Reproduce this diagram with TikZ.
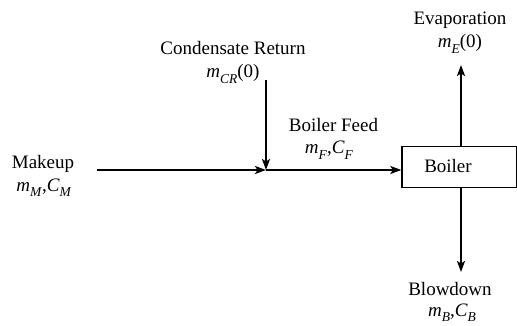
\documentclass[tikz,border=0pt]{standalone}
\usepackage{fontspec}
\setmainfont{Liberation Serif}
\usetikzlibrary{arrows.meta}
\newcommand{\vsub}[2]{\textit{#1}\raisebox{-0.28em}{\fontsize{13.5}{14}\selectfont\textit{#2}}}
\begin{document}
\begin{tikzpicture}[x=1pt,y=-1pt,
  lbl/.style={anchor=base,inner sep=0pt,font=\fontsize{19}{22}\selectfont},
  arr/.style={line width=1.6pt,-{Stealth[length=11pt,width=8pt,inset=2.5pt]}},
  boxst/.style={draw,line width=1.2pt,minimum width=114.5pt,minimum height=40.5pt,inner sep=0pt}]
\useasboundingbox (0,0) rectangle (517,326);
% boiler
\node[boxst] (boiler) at (459.2,167) {};
\node[lbl] (boilertxt) at (448,173) {Boiler};
% coordinates
\coordinate (J) at (266,170);
\coordinate (mkstart) at (96.5,170);
\coordinate (crstart) at (266,80.5);
\coordinate (evtip) at (461,65);
\coordinate (bdtip) at (461,272);
% arrows
\draw[arr] (mkstart) -- (J);
\draw[arr] (crstart) -- (J);
\draw[arr] (J) -- (J -| boiler.west);
\draw[arr] (evtip |- boiler.north) -- (evtip);
\draw[arr] (bdtip |- boiler.south) -- (bdtip);
% labels
\node[lbl] (mk1) at (43,168) {Makeup};
\node[lbl] (mk2) at (44,191) {\vsub{m}{M},\vsub{C}{M}};
\node[lbl] (cr1) at (233,55) {Condensate Return};
\node[lbl] (cr2) at (233,78) {\vsub{m}{CR}(0)};
\node[lbl] (bf1) at (333.5,131.5) {Boiler Feed};
\node[lbl] (bf2) at (329,154) {\vsub{m}{F},\vsub{C}{F}};
\node[lbl] (ev1) at (460,25) {Evaporation};
\node[lbl] (ev2) at (460,48) {\vsub{m}{E}(0)};
\node[lbl] (bd1) at (450,295) {Blowdown};
\node[lbl] (bd2) at (452,316) {\vsub{m}{B},\vsub{C}{B}};
\end{tikzpicture}
\end{document}
